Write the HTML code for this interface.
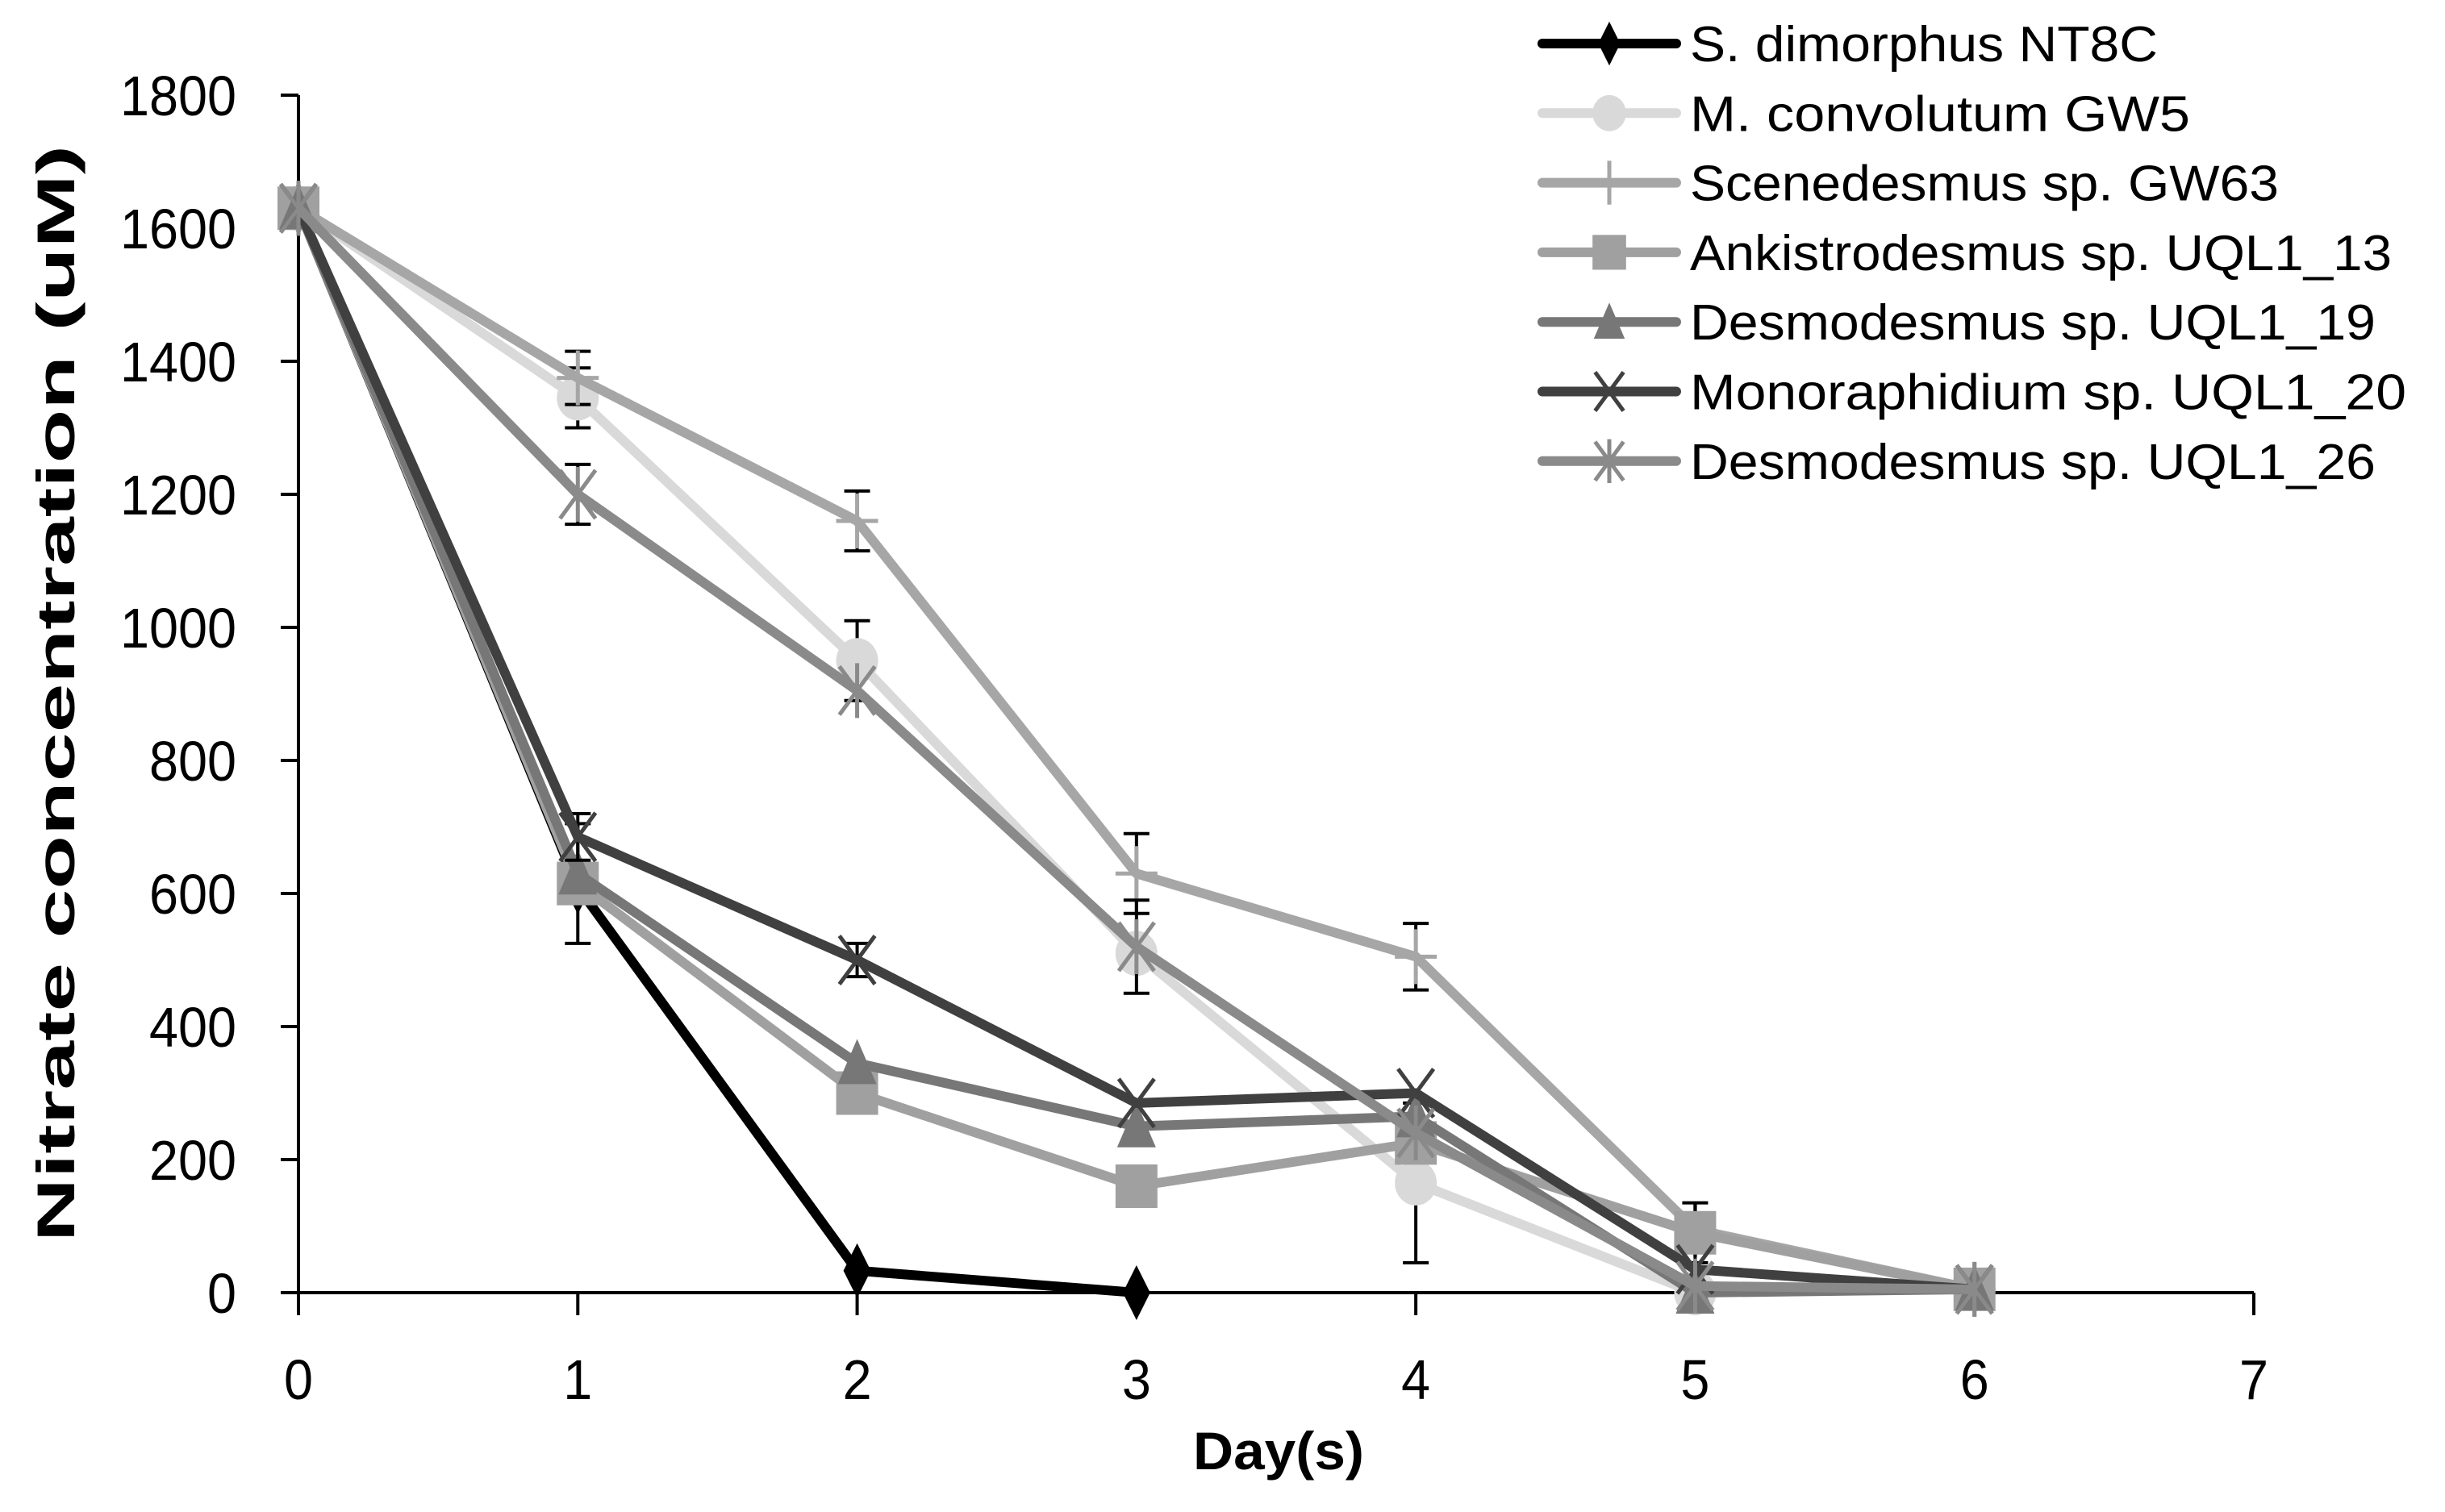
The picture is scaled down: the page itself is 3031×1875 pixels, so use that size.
<!DOCTYPE html>
<html><head><meta charset="utf-8"><style>
html,body{margin:0;padding:0;background:#fff;}
svg{display:block;}
text{font-family:"Liberation Sans",sans-serif;}
</style></head><body>
<svg id="chart" width="3031" height="1875" viewBox="0 0 3031 1875" xmlns="http://www.w3.org/2000/svg">
<g id="axes"></g>
<g id="series"></g>
<g id="legend"></g>
<text x="0" y="0" transform="translate(92,860) rotate(-90)" text-anchor="middle" font-weight="bold" font-size="66" textLength="1360" lengthAdjust="spacingAndGlyphs">Nitrate concentration (uM)</text>
<text x="1585" y="1822" text-anchor="middle" font-weight="bold" font-size="66" textLength="212" lengthAdjust="spacingAndGlyphs">Day(s)</text>
</svg>
<script>
const days = [0,1,2,3,4,5,6];
const names = ["S. dimorphus NT8C","M. convolutum GW5","Scenedesmus sp. GW63","Ankistrodesmus sp. UQL1_13","Desmodesmus sp. UQL1_19","Monoraphidium sp. UQL1_20","Desmodesmus sp. UQL1_26"];
const sDimorphus = [1630,610,33,0];
const mConvolutum = [1630,1345,950,510,165,0];
const scenedesmus = [1630,1375,1160,630,505,95,5];
const ankistro = [1630,615,300,160,225,90,5];
const desmo19 = [1630,630,345,250,265,0,5];
const monoraph = [1630,685,500,285,300,35,5];
const desmo26 = [1630,1200,905,520,240,10,5];
const errS = [0,0,0,0];
const errM = [0,45,60,0,120,0];
const errSc = [0,40,45,60,50,0,0];
const errA = [0,90,0,0,0,45,0];
const errD19 = [0,0,0,0,0,0,0];
const errMo = [0,35,25,0,0,0,0];
const errD26 = [0,45,0,70,0,0,0];
const yTicks = [0,200,400,600,800,1000,1200,1400,1600,1800];
const xTicks = [0,1,2,3,4,5,6,7];

const NS="http://www.w3.org/2000/svg";
const X0=370,X1=2794,Y0=1603,Y1=118;
const xs=d=>X0+(d/7)*(X1-X0);
const ys=v=>Y0-(v/1800)*(Y0-Y1);
function mk(tag,attrs,parent){const e=document.createElementNS(NS,tag);for(const k in attrs)e.setAttribute(k,attrs[k]);parent.appendChild(e);return e;}

const axes=document.getElementById('axes');
yTicks.forEach(v=>{
  const t=mk('line',{x1:X0-22,x2:X0,y1:ys(v),y2:ys(v),stroke:'#000','stroke-width':4},axes);
  
  
  const l=mk('text',{x:293,y:ys(v)+25,'text-anchor':'end','font-size':70},axes);
  l.textContent=String(v);
  
  
  l.setAttribute('textLength',String(v).length*36);
  l.setAttribute('lengthAdjust','spacingAndGlyphs');
});
xTicks.forEach(d=>{
  const t=mk('line',{x1:xs(d),x2:xs(d),y1:Y0,y2:Y0+28,stroke:'#000','stroke-width':4},axes);
  
  
  const l=mk('text',{x:xs(d),y:1735,'text-anchor':'middle','font-size':70,textLength:36,lengthAdjust:'spacingAndGlyphs'},axes);
  l.textContent=String(d);
  
  
});
const ya=mk('line',{x1:X0,x2:X0,y1:Y1,y2:Y0,stroke:'#000','stroke-width':4},axes);


const xa=mk('line',{x1:X0,x2:X1,y1:Y0,y2:Y0,stroke:'#000','stroke-width':4},axes);



const seriesDefs=[
 {vals:sDimorphus,err:errS,color:'#000000',m:'diamond'},
 {vals:mConvolutum,err:errM,color:'#d9d9d9',m:'circle'},
 {vals:scenedesmus,err:errSc,color:'#a6a6a6',m:'plus'},
 {vals:ankistro,err:errA,color:'#a0a0a0',m:'square'},
 {vals:desmo19,err:errD19,color:'#777777',m:'triangle'},
 {vals:monoraph,err:errMo,color:'#404040',m:'x'},
 {vals:desmo26,err:errD26,color:'#8a8a8a',m:'star'}
];
function marker(type,cx,cy,color,parent,s){
  s=s||1;let e;
  if(type==='diamond'){e=mk('polygon',{points:`${cx},${cy-34*s} ${cx+17*s},${cy} ${cx},${cy+34*s} ${cx-17*s},${cy}`,fill:color},parent);}
  else if(type==='circle'){e=mk('ellipse',{cx:cx,cy:cy,rx:26*s,ry:28*s,fill:color},parent);}
  else if(type==='square'){e=mk('rect',{x:cx-26*s,y:cy-27*s,width:52*s,height:54*s,fill:color},parent);}
  else if(type==='triangle'){e=mk('polygon',{points:`${cx},${cy-30*s} ${cx+24*s},${cy+26*s} ${cx-24*s},${cy+26*s}`,fill:color},parent);}
  else if(type==='plus'){e=mk('path',{d:`M${cx-26*s},${cy}H${cx+26*s}M${cx},${cy-34*s}V${cy+34*s}`,stroke:color,'stroke-width':5,fill:'none'},parent);}
  else if(type==='x'){e=mk('path',{d:`M${cx-22*s},${cy-30*s}L${cx+22*s},${cy+30*s}M${cx+22*s},${cy-30*s}L${cx-22*s},${cy+30*s}`,stroke:color,'stroke-width':5,fill:'none'},parent);}
  else {e=mk('path',{d:`M${cx-22*s},${cy-30*s}L${cx+22*s},${cy+30*s}M${cx+22*s},${cy-30*s}L${cx-22*s},${cy+30*s}M${cx},${cy-34*s}V${cy+34*s}`,stroke:color,'stroke-width':5,fill:'none'},parent);}
  return e;
}
const sg=document.getElementById('series');
seriesDefs.forEach((s,i)=>{
  const g=mk('g',{},sg);
  
  
  s.err.forEach((e,j)=>{
    if(!e||j>=s.vals.length)return;
    const x=xs(days[j]);
    const eb=mk('path',{d:`M${x},${ys(s.vals[j]+e)}V${ys(s.vals[j]-e)}M${x-16},${ys(s.vals[j]+e)}H${x+16}M${x-16},${ys(s.vals[j]-e)}H${x+16}`,stroke:'#000','stroke-width':4,fill:'none'},g);
    
    
  });
  const pts=s.vals.map((v,j)=>xs(days[j])+','+ys(v)).join(' ');
  const pl=mk('polyline',{points:pts,fill:'none',stroke:s.color,'stroke-width':12,'stroke-linejoin':'round'},g);
  
  
  s.vals.forEach((v,j)=>{
    const m=marker(s.m,xs(days[j]),ys(v),s.color,g);
    
    
  });
});
const lg=document.getElementById('legend');
const legW=[580,620,730,870,850,888,850];
seriesDefs.forEach((s,i)=>{
  const cy=54+i*86.3;
  const g=mk('g',{},lg);
  
  
  const ln=mk('line',{x1:1912,x2:2078,y1:cy,y2:cy,stroke:s.color,'stroke-width':12,'stroke-linecap':'round'},g);
  
  
  const m=marker(s.m,1995,cy,s.color,g,0.8);
  
  
  const t=mk('text',{x:2095,y:cy+22,'font-size':62,textLength:legW[i],lengthAdjust:'spacingAndGlyphs'},g);
  t.textContent=names[i];
  
  
});
</script>
</body></html>
